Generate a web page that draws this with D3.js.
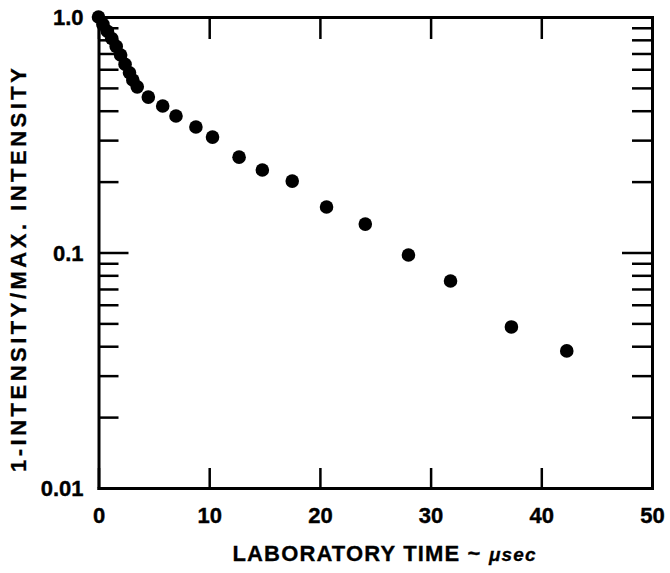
<!DOCTYPE html>
<html>
<head>
<meta charset="utf-8">
<script src="https://cdn.jsdelivr.net/npm/d3@7/dist/d3.min.js"></script>
<style>
  html, body { margin: 0; padding: 0; background: #fff; }
  svg { display: block; }
</style>
</head>
<body>
<svg id="chart" width="670" height="573"></svg>
<script>
// Data: time (microseconds) and 1 - intensity / max. intensity
const timeUs = [0, 0.4, 0.8, 1.2, 1.6, 2.0, 2.4, 2.8, 3.1, 3.5, 4.5, 5.8, 7.0, 8.8, 10.3, 12.7, 14.8, 17.5, 20.6, 24.1, 28.0, 31.8, 37.3, 42.3];
const ratio  = [1.0, 0.93, 0.87, 0.81, 0.75, 0.69, 0.63, 0.58, 0.54, 0.505, 0.457, 0.419, 0.380, 0.341, 0.309, 0.254, 0.224, 0.201, 0.156, 0.132, 0.0976, 0.0757, 0.0483, 0.0382];

const xTicks = [0, 10, 20, 30, 40, 50];
const yMajor = [0.01, 0.1, 1.0];
const yMajorLabels = ["0.01", "0.1", "1.0"];
const yMinor = [0.02, 0.03, 0.04, 0.05, 0.06, 0.07, 0.08, 0.09, 0.2, 0.3, 0.4, 0.5, 0.6, 0.7, 0.8, 0.9];

const xTitle = "LABORATORY TIME ~ ";
const xTitleUnit = "\u03bcsec";
const yTitle = "1-INTENSITY/MAX. INTENSITY";

(function () {
const svg = d3.select("#chart");
const mL = 98.5, mR = 652, mT = 17, mB = 488;

const x = d3.scaleLinear().domain([0, 50]).range([mL, mR]);
const y = d3.scaleLog().domain([0.01, 1]).range([mB, mT]);

const font = '"Liberation Sans", Arial, sans-serif';

const yTicksAll = yMinor.concat(yMajor);
const gL = svg.append("g").attr("transform", `translate(${mL},0)`)
  .call(d3.axisLeft(y).tickValues(yTicksAll).tickSizeInner(-20).tickSizeOuter(0).tickPadding(15)
    .tickFormat(d => { const i = yMajor.indexOf(d); return i >= 0 ? yMajorLabels[i] : ""; }));
const gR = svg.append("g").attr("transform", `translate(${mR},0)`)
  .call(d3.axisRight(y).tickValues(yTicksAll).tickSizeInner(-20).tickSizeOuter(0).tickFormat(""));
const gB = svg.append("g").attr("transform", `translate(0,${mB})`)
  .call(d3.axisBottom(x).tickValues(xTicks).tickSizeInner(-20).tickSizeOuter(0).tickPadding(19).tickFormat(d3.format("d")));
const gT = svg.append("g").attr("transform", `translate(0,${mT})`)
  .call(d3.axisTop(x).tickValues(xTicks).tickSizeInner(-22).tickSizeOuter(0).tickFormat(""));

[gL, gR, gB, gT].forEach(g => {
  g.select(".domain").attr("stroke", "#000").attr("stroke-width", 3).attr("stroke-linecap", "square");
  g.selectAll(".tick line").attr("stroke", "#000").attr("stroke-width", 2.5);
  g.selectAll(".tick text").attr("font-size", 22).attr("font-family", font).attr("font-weight", "bold").attr("fill", "#000")
    .attr("stroke", "#000").attr("stroke-width", 0.4);
});
gL.selectAll(".tick").filter(d => d === 0.1).select("line").attr("x2", 30);
gR.selectAll(".tick").filter(d => d === 0.1).select("line").attr("x2", -30);
gL.selectAll(".tick text").attr("dy", "0.36em");

svg.append("g").selectAll("circle")
  .data(timeUs.map((t, i) => ({ t, v: ratio[i] })))
  .join("circle")
  .attr("cx", d => x(d.t))
  .attr("cy", d => y(d.v))
  .attr("r", 6.8)
  .attr("fill", "#000");

const xt = svg.append("text")
  .attr("x", 384).attr("y", 561)
  .attr("text-anchor", "middle")
  .attr("font-family", font).attr("font-weight", "bold").attr("font-size", 22)
  .attr("textLength", 303).attr("lengthAdjust", "spacing")
  .attr("fill", "#000").attr("stroke", "#000").attr("stroke-width", 0.3);
xt.append("tspan").text(xTitle);
xt.append("tspan").attr("font-style", "italic").attr("font-size", 19).text(xTitleUnit);

svg.append("text")
  .attr("transform", "translate(26,270) rotate(-90)")
  .attr("text-anchor", "middle")
  .attr("font-family", font).attr("font-weight", "bold").attr("font-size", 22)
  .attr("textLength", 404).attr("lengthAdjust", "spacing")
  .attr("fill", "#000").attr("stroke", "#000").attr("stroke-width", 0.3)
  .text(yTitle);
})();
</script>
</body>
</html>
